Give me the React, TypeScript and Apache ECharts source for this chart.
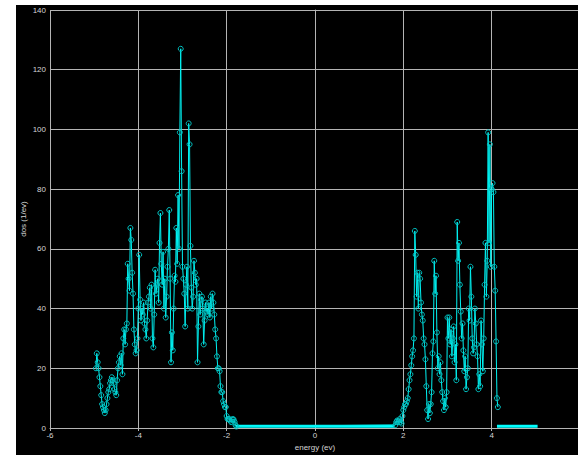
import React, { useEffect, useRef } from "react";
import * as echarts from "echarts";

// Energy grid: start energy and spacing (eV) for each band
const leftStart = -4.96;
const rightStart = 1.82;
const stepEv = 0.02;

// DOS values (1/eV), valence band
const leftDos = [
  20, 25, 22, 20, 17, 14, 11, 8, 7, 6,
  5, 6, 8, 10, 12, 13, 15, 16, 17, 16,
  15, 13, 12, 11, 16, 20, 22, 24, 21, 25,
  18, 30, 33, 28, 33, 35, 55, 50, 46, 67,
  63, 52, 45, 33, 28, 25, 26, 30, 40, 58,
  43, 36, 40, 38, 42, 35, 33, 30, 36, 42,
  44, 47, 40, 48, 30, 27, 38, 53, 45, 48,
  50, 42, 62, 72, 55, 48, 59, 40, 50, 37,
  44, 54, 60, 73, 50, 22, 32, 26, 40, 51,
  49, 67, 55, 78, 60, 99, 127, 86, 54, 50,
  45, 34, 48, 54, 40, 102, 95, 61, 47, 40,
  44, 56, 52, 48, 50, 22, 34, 45, 38, 43,
  44, 40, 28, 36, 42, 39, 40, 38, 42, 37,
  44, 40, 45, 42, 38, 33, 30, 24, 20, 20,
  19, 14, 12, 12, 9, 8, 7, 7, 4, 3,
  3, 3, 2.5, 2, 2.8, 3, 2.8, 2, 1, 0.5,
];

// DOS values (1/eV), conduction band
const rightDos = [
  1, 2, 2.5, 2, 2.5, 3, 2, 1.5, 4, 6,
  7, 8, 8, 9, 10, 13, 16, 18, 21, 24,
  26, 30, 66, 58, 44, 52, 40, 52, 50, 42,
  38, 36, 30, 28, 23, 14, 6, 3, 8, 5,
  8, 12, 25, 29, 56, 45, 51, 32, 20, 24,
  18, 22, 16, 12, 9, 6, 10, 7, 12, 37,
  30, 37, 28, 33, 24, 30, 34, 22, 28, 16,
  69, 56, 62, 48, 39, 30, 35, 26, 19, 24,
  13, 17, 20, 40, 36, 54, 44, 30, 25, 27,
  40, 35, 28, 24, 13, 18, 14, 36, 28, 19,
  30, 48, 62, 44, 56, 99, 62, 95, 54, 80,
  82, 79, 54, 46, 29, 10, 7,
];

// Flat near-zero stretches (gap and upper tail): [startEv, endEv]
const flatRanges = [
  [-1.8, 1.8],
  [4.12, 5.04],
];
const flatLevel = 0.6;

const xTicks = { min: -6, max: 6, interval: 2 };
const yTicks = { min: 0, max: 140, interval: 20 };

const axisColor = "#b4b4b4";
const textColor = "#d4d4d4";
const fontFamily = "'Liberation Sans', Arial, sans-serif";

export default function App() {
  const ref = useRef<HTMLDivElement>(null);

  useEffect(() => {
    if (!ref.current) return;
    const chart = echarts.init(ref.current, undefined, { renderer: "svg" });

    const mainData: number[][] = [];
    leftDos.forEach((v, i) => mainData.push([+(leftStart + i * stepEv).toFixed(2), v]));
    rightDos.forEach((v, i) => mainData.push([+(rightStart + i * stepEv).toFixed(2), v]));

    const flatData: (number[] | null)[] = [];
    flatRanges.forEach((r, i) => {
      if (i > 0) flatData.push(null as any);
      flatData.push([r[0], flatLevel], [r[1], flatLevel]);
    });

    chart.setOption({
      animation: false,
      backgroundColor: "#000",
      grid: { left: 50, width: 530, top: 10, height: 418, outerBoundsMode: "none", containLabel: false },
      graphic: [
        { type: "rect", shape: { x: 0, y: 0, width: 16, height: 455 }, style: { fill: "#fff" }, silent: true },
        { type: "rect", shape: { x: 0, y: 0, width: 578, height: 5 }, style: { fill: "#fff" }, silent: true },
      ],
      xAxis: {
        type: "value",
        min: xTicks.min,
        max: xTicks.max,
        interval: xTicks.interval,
        name: "energy (ev)",
        nameLocation: "middle",
        nameGap: 15,
        nameMoveOverlap: false,
        nameTextStyle: { color: textColor, fontSize: 8, fontFamily },
        axisLine: { onZero: false, lineStyle: { color: axisColor, width: 1 } },
        axisTick: { show: true, length: 3, lineStyle: { color: axisColor } },
        axisLabel: { color: textColor, fontSize: 8, fontFamily, margin: 3, showMaxLabel: false },
        splitLine: { show: true, lineStyle: { color: axisColor, width: 1 } },
      },
      yAxis: {
        type: "value",
        min: yTicks.min,
        max: yTicks.max,
        interval: yTicks.interval,
        name: "dos (1/ev)",
        nameLocation: "middle",
        nameRotate: 90,
        nameGap: 23,
        nameMoveOverlap: false,
        nameTextStyle: { color: textColor, fontSize: 8, fontFamily },
        axisLine: { show: true, lineStyle: { color: axisColor, width: 1 } },
        axisTick: { show: true, length: 3, lineStyle: { color: axisColor } },
        axisLabel: { color: textColor, fontSize: 8, fontFamily, margin: 4 },
        splitLine: { show: true, lineStyle: { color: axisColor, width: 1 } },
      },
      series: [
        {
          type: "line",
          data: flatData,
          showSymbol: false,
          symbol: "none",
          connectNulls: false,
          lineStyle: { color: "#00ffff", width: 3 },
          z: 3,
        },
        {
          type: "line",
          data: mainData,
          symbol: "circle",
          symbolSize: 5,
          showAllSymbol: true,
          lineStyle: { color: "#00f2f2", width: 1 },
          itemStyle: { color: "rgba(0,0,0,0)", borderColor: "#00c4c4", borderWidth: 1 },
          z: 4,
        },
      ],
    });

    return () => chart.dispose();
  }, []);

  return (
    <div
      ref={ref}
      style={{ position: "fixed", left: 0, top: 0, width: 578, height: 455 }}
    />
  );
}
